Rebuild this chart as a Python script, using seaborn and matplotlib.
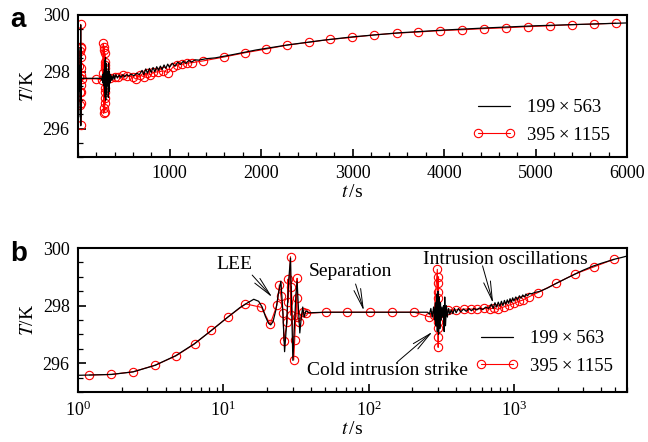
import matplotlib
matplotlib.use("Agg")
import matplotlib.pyplot as plt
from matplotlib.ticker import MultipleLocator, LogLocator, NullFormatter
import seaborn as sns

# -------------------------------
# DATA
# -------------------------------
# coarse grid 199x563 : black line (same series in both panels)
t_coarse = [1.0, 1.2, 1.7, 2.4, 3.4, 4.7, 6.3, 8.3, 10.8, 13.0, 14.5, 16.2, 17.5, 18.5,
            19.5, 20.5, 21.2, 22.0, 23.0, 24.0, 24.9, 25.6, 26.4, 27.2, 28.2, 29.0, 29.5,
            30.1, 30.8, 31.6, 32.2, 32.8, 33.6, 34.4, 35.2, 36.0, 37.0, 39.0, 50, 100, 200,
            255, 262, 268, 274, 280, 284, 288, 291, 294, 297, 300, 303, 306, 309, 312, 316,
            320, 324, 328, 331, 334, 338, 343, 348, 355, 362, 370, 380, 390, 400, 415, 430,
            450, 470, 490, 510, 530, 555, 580, 610, 640, 670, 700, 720, 740, 760, 780, 800,
            820, 840, 860, 880, 900, 920, 940, 960, 980, 1000, 1030, 1060, 1090, 1120, 1150,
            1180, 1210, 1240, 1280, 1320, 1400, 1500, 1700, 1950, 2300, 2650, 3000, 3500,
            4000, 4500, 5000, 5500, 6000]
T_coarse = [295.58, 295.59, 295.61, 295.70, 295.93, 296.26, 296.67, 297.14, 297.61, 297.93,
            298.08, 298.22, 298.15, 297.95, 297.62, 297.38, 297.33, 297.45, 297.85, 298.45,
            298.85, 297.90, 296.40, 297.30, 298.90, 299.65, 298.00, 296.10, 297.20, 298.40,
            298.85, 298.00, 297.05, 297.60, 297.95, 297.60, 297.82, 297.75, 297.77, 297.77,
            297.77, 297.77, 297.70, 297.90, 297.60, 297.95, 297.50, 298.10, 297.30, 298.40,
            297.10, 298.50, 297.00, 298.30, 297.20, 298.10, 297.50, 297.95, 297.60, 298.00,
            297.10, 298.30, 297.30, 298.00, 297.60, 297.90, 297.70, 297.85, 297.72, 297.90,
            297.75, 297.90, 297.78, 297.88, 297.80, 297.90, 297.82, 297.90, 297.85, 297.92,
            297.86, 297.95, 297.90, 298.05, 297.90, 298.10, 297.95, 298.12, 297.98, 298.15,
            298.00, 298.18, 298.05, 298.20, 298.08, 298.24, 298.12, 298.27, 298.16, 298.30,
            298.20, 298.34, 298.26, 298.37, 298.30, 298.40, 298.34, 298.42, 298.41, 298.46,
            298.49, 298.61, 298.77, 298.95, 299.10, 299.23, 299.37, 299.47, 299.55, 299.62,
            299.67, 299.72]

# fine grid 395x1155 : red circles, as sampled in panel a (linear time)
t_fine_a = [12, 16, 21, 24.3, 26.1, 27.9, 28.5, 29.0, 29.4, 30.5, 31.0, 32.2, 32.6, 33.1,
            35.3, 40, 200, 262, 270, 276, 280, 284, 287, 289, 291, 293, 294, 295, 296, 297,
            298, 299, 300, 350, 400, 441, 495, 532, 600, 634, 678, 720, 751, 790, 823, 878,
            932, 987, 1042, 1085, 1133, 1188, 1243, 1362, 1596, 1825, 2055, 2288, 2528,
            2754, 2991, 3238, 3483, 3719, 3956, 4200, 4437, 4678, 4918, 5158, 5399, 5639,
            5876]
T_fine_a = [297.80, 298.20, 297.30, 298.72, 296.83, 298.88, 297.54, 299.67, 298.53, 296.13,
            296.89, 298.83, 298.12, 297.30, 297.89, 297.75, 297.75, 297.71, 297.95, 299.00,
            296.54, 298.88, 296.71, 298.77, 296.60, 298.65, 296.89, 298.36, 297.07, 298.24,
            297.30, 298.12, 297.42, 297.77, 297.83, 297.83, 297.89, 297.85, 297.82, 297.74,
            297.89, 297.82, 297.95, 297.90, 297.98, 298.00, 298.03, 297.97, 298.18, 298.24,
            298.26, 298.30, 298.32, 298.38, 298.52, 298.67, 298.80, 298.94, 299.04, 299.14,
            299.21, 299.30, 299.36, 299.40, 299.45, 299.48, 299.52, 299.55, 299.59, 299.62,
            299.66, 299.68, 299.71]

# fine grid 395x1155 : red circles, as sampled in panel b (log time)
t_fine_b = [1.197, 1.69, 2.38, 3.40, 4.74, 6.34, 8.26, 10.8, 14.2, 18.3, 21.0, 23.4, 24.3,
            24.9, 25.8, 26.1, 27.5, 27.9, 27.9, 29.0, 29.0, 29.4, 30.5, 31.0, 32.2, 32.2,
            32.2, 33.1, 35.3, 37.2, 50.5, 71, 102, 144, 206, 261, 282, 297, 298, 299, 300,
            300.5, 301, 301.5, 302, 302.5, 303, 322, 349, 398, 450, 505, 560, 624, 680, 731,
            772, 857, 930, 1005, 1080, 1148, 1275, 1457, 1950, 2634, 3580, 4870]
T_fine_b = [295.59, 295.61, 295.70, 295.93, 296.26, 296.67, 297.14, 297.61, 298.06, 297.94,
            297.35, 298.02, 298.72, 298.34, 297.73, 296.78, 297.42, 298.92, 298.11, 299.70,
            297.67, 298.66, 296.11, 296.81, 298.95, 298.25, 297.61, 297.42, 297.79, 297.73,
            297.77, 297.77, 297.77, 297.77, 297.77, 297.61, 297.67, 299.26, 298.77, 298.25,
            297.44, 296.92, 296.55, 297.21, 298.48, 299.00, 297.73, 297.73, 297.85, 297.85,
            297.88, 297.88, 297.88, 297.90, 297.88, 297.92, 297.87, 297.96, 298.02, 298.08,
            298.15, 298.19, 298.31, 298.45, 298.77, 299.10, 299.35, 299.61]

label_coarse = "199\u2009\u00d7\u2009563"
label_fine = "395\u2009\u00d7\u20091155"

# -------------------------------
# STYLE
# -------------------------------
sns.set_style("ticks")
plt.rcParams["font.family"] = ["Liberation Serif", "DejaVu Serif"]
plt.rcParams["mathtext.fontset"] = "stix"
plt.rcParams["font.size"] = 13
plt.rcParams["axes.linewidth"] = 1.5
plt.rcParams["axes.edgecolor"] = "black"
plt.rcParams["text.color"] = "black"
plt.rcParams["axes.labelcolor"] = "black"
plt.rcParams["xtick.color"] = "black"
plt.rcParams["ytick.color"] = "black"

fig = plt.figure(figsize=(6.48, 4.42), dpi=100)
ax_a = fig.add_axes([0.1204, 0.6448, 0.8472, 0.3213])
ax_b = fig.add_axes([0.1204, 0.1131, 0.8472, 0.3258])


def draw(ax, t_red, T_red):
    sns.lineplot(x=t_red, y=T_red, ax=ax, sort=False, estimator=None, color="red",
                 lw=0.8, marker="o", markersize=6, markerfacecolor="none",
                 markeredgecolor="red", markeredgewidth=0.8, label=label_fine, zorder=2)
    sns.lineplot(x=t_coarse, y=T_coarse, ax=ax, sort=False, estimator=None, color="black",
                 lw=0.9, label=label_coarse, zorder=3)
    ax.set_ylim(295, 300)
    ax.yaxis.set_major_locator(MultipleLocator(2))
    ax.yaxis.set_minor_locator(MultipleLocator(0.5))
    ax.tick_params(which="both", direction="in", top=False, right=False, labelsize=13,
                   pad=6, colors="black")
    ax.tick_params(which="major", length=6, width=1.2)
    ax.tick_params(which="minor", length=3.5, width=0.9)
    ax.set_ylabel(r"$T$/K", fontsize=14, labelpad=4)
    ax.set_xlabel(r"$t\,$/s", fontsize=14, labelpad=1)
    for s in ax.spines.values():
        s.set_visible(True)
        s.set_linewidth(1.5)
        s.set_color("black")
    h, l = ax.get_legend_handles_labels()
    return h[::-1], l[::-1]


leg_kw = dict(loc="center left", frameon=False, borderpad=0, borderaxespad=0,
              handlelength=2.3, handletextpad=0.6, labelspacing=0.55, numpoints=2,
              fontsize=13.5)

# panel a : linear time
h, l = draw(ax_a, t_fine_a, T_fine_a)
ax_a.set_xlim(0, 6000)
ax_a.set_xticks([1000, 2000, 3000, 4000, 5000, 6000])
ax_a.xaxis.set_minor_locator(MultipleLocator(200))
ax_a.legend(h, l, bbox_to_anchor=(0.718, 0.25), **leg_kw)

# panel b : log time
h, l = draw(ax_b, t_fine_b, T_fine_b)
ax_b.set_xscale("log")
ax_b.set_xlim(1, 6000)
ax_b.xaxis.set_major_locator(LogLocator(base=10))
ax_b.xaxis.set_minor_locator(LogLocator(base=10, subs=range(2, 10)))
ax_b.xaxis.set_minor_formatter(NullFormatter())
ax_b.legend(h, l, bbox_to_anchor=(0.724, 0.275), **leg_kw)

# annotations
arrow = dict(arrowstyle="->,head_length=1.4,head_width=0.25", lw=0.7, color="black",
             shrinkA=0, shrinkB=0, mutation_scale=10)
notes = [
    ("LEE", (11.9, 299.44), (15.8, 299.06), (21.7, 298.29)),
    ("Separation", (75.0, 299.18), (81.3, 298.75), (92.8, 297.82)),
    ("Intrusion oscillations", (867, 299.6), (608, 299.38), (719, 298.08)),
    ("Cold intrusion strike", (135, 295.76), (158, 296.05), (275, 297.09)),
]
for txt, pos, tail, tip in notes:
    ax_b.text(pos[0], pos[1], txt, ha="center", va="center", fontsize=14, zorder=5)
    ax_b.annotate("", xy=tip, xytext=tail, arrowprops=arrow, zorder=5)

# panel letters
fig.text(0.016, 0.94, "a", fontsize=20, fontweight="bold", family="Liberation Sans")
fig.text(0.016, 0.41, "b", fontsize=20, fontweight="bold", family="Liberation Sans")

fig.savefig("out.png", dpi=100)
